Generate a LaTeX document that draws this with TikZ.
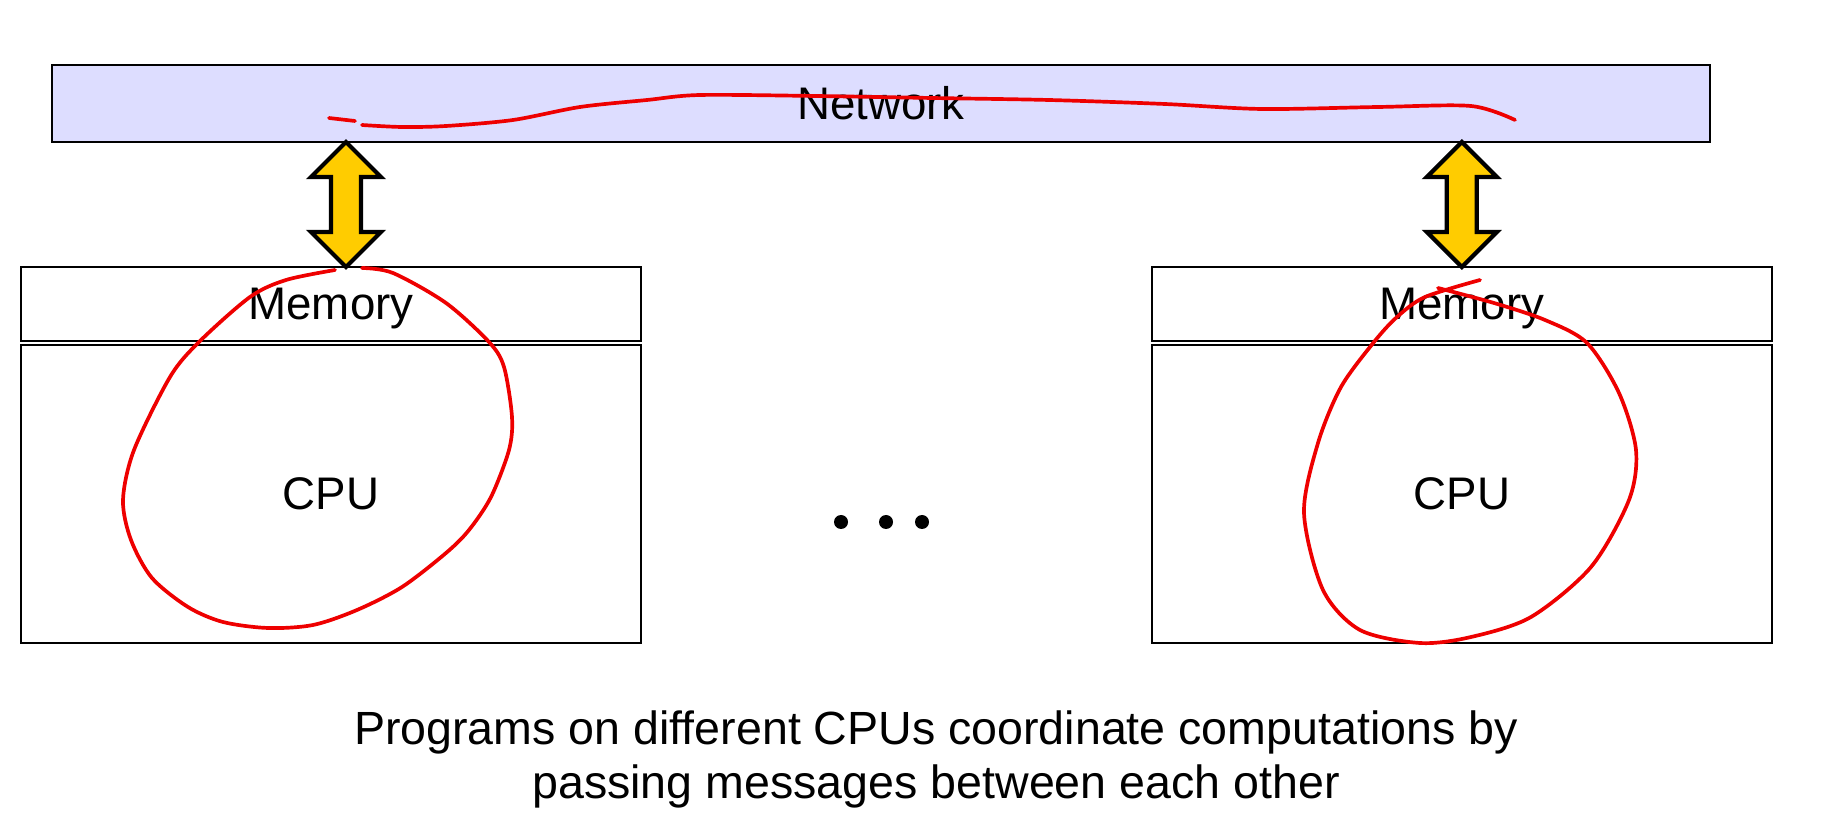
\documentclass[tikz,border=0pt]{standalone}
\usepackage{fontspec}
\setmainfont{Liberation Sans}
\usepackage{xcolor}
\usetikzlibrary{positioning}
\definecolor{netblue}{RGB}{221,221,255}
\definecolor{arrowyellow}{RGB}{255,204,0}
\definecolor{penred}{RGB}{238,0,0}
\tikzstyle{network} = [rectangle, minimum width=33.16cm, minimum height=1.54cm, text centered, draw=black, line width=1.1pt, fill=netblue, outer sep=0pt, font=\fontsize{26}{30}\selectfont]
\tikzstyle{memory} = [rectangle, minimum width=12.4cm, minimum height=1.48cm, text centered, text depth=0pt, draw=black, line width=1.1pt, outer sep=0pt, font=\fontsize{26}{30}\selectfont]
\tikzstyle{cpu} = [rectangle, minimum width=12.4cm, minimum height=5.96cm, text centered, draw=black, line width=1.1pt, outer sep=0pt, font=\fontsize{26}{30}\selectfont]
\tikzstyle{bigarrow} = [draw=black, line width=2.4pt, fill=arrowyellow, line join=miter]
\tikzstyle{pen} = [draw=penred, line width=2.1pt, line cap=round, line join=round]
\tikzstyle{caption} = [align=center, font=\fontsize{26.5}{30.2}\selectfont]

\begin{document}
\begin{tikzpicture}[x=0.02cm, y=-0.02cm]
	\useasboundingbox (0,0) rectangle (1827,834);
	
	\node (net) [network] at (881,103.5) {Network};
	\node (m1) [memory] at (331,304) {Memory};
	\node (c1) [cpu, below=0.08cm of m1] {CPU};
	\node (m2) [memory, right=10.22cm of m1] {Memory};
	\node (c2) [cpu, below=0.08cm of m2] {CPU};
	
	% dots between the two machines
	\fill (841,522) circle (7);
	\fill (886,522) circle (7);
	\fill (922,522) circle (7);
	
	\node (cap) [caption, anchor=base] at (936,798) {Programs on different CPUs coordinate computations by\\passing messages between each other};
	
	% red pen strokes
	\draw [pen] plot [smooth] coordinates {(329,118) (355,121)};
	\draw [pen] plot [smooth] coordinates {(362,125) (402,127) (446,126) (513,120) (580,107) (647,100) (700,95) (816,96) (932,98) (1049,100) (1165,104) (1262,109) (1378,107) (1471,106) (1515,120)};
	\draw [pen] plot [smooth] coordinates {(362,268) (393,273) (446,303) (489,342) (504,367) (512,417) (509,450) (491,497) (469,530) (446,553) (402,587) (357,610) (313,625) (268,628) (223,622) (188,607) (152,578) (131,540) (123,500) (134,450) (170,377) (199,342) (250,297) (286,280) (335,270)};
	\draw [pen] plot [smooth] coordinates {(1438,288) (1494,303) (1545,320) (1587,343) (1619,393) (1636,450) (1629,500) (1591,567) (1531,617) (1471,637) (1420,643) (1360,630) (1323,590) (1304,513) (1318,443) (1341,387) (1374,342) (1397,317) (1425,297) (1480,280)};
	
	% double arrows network <-> memory
	\coordinate (a1) at ([xshift=0.3cm]m1.north);
	\coordinate (a2) at (m2.north);
	\draw [bigarrow] (net.south -| a1) -- ++(35,35) -- ++(-20,0) -- ++(0,55) -- ++(20,0) -- (a1) -- ++(-35,-35) -- ++(20,0) -- ++(0,-55) -- ++(-20,0) -- cycle;
	\draw [bigarrow] (net.south -| a2) -- ++(35,35) -- ++(-20,0) -- ++(0,55) -- ++(20,0) -- (a2) -- ++(-35,-35) -- ++(20,0) -- ++(0,-55) -- ++(-20,0) -- cycle;
	
\end{tikzpicture}
\end{document}
